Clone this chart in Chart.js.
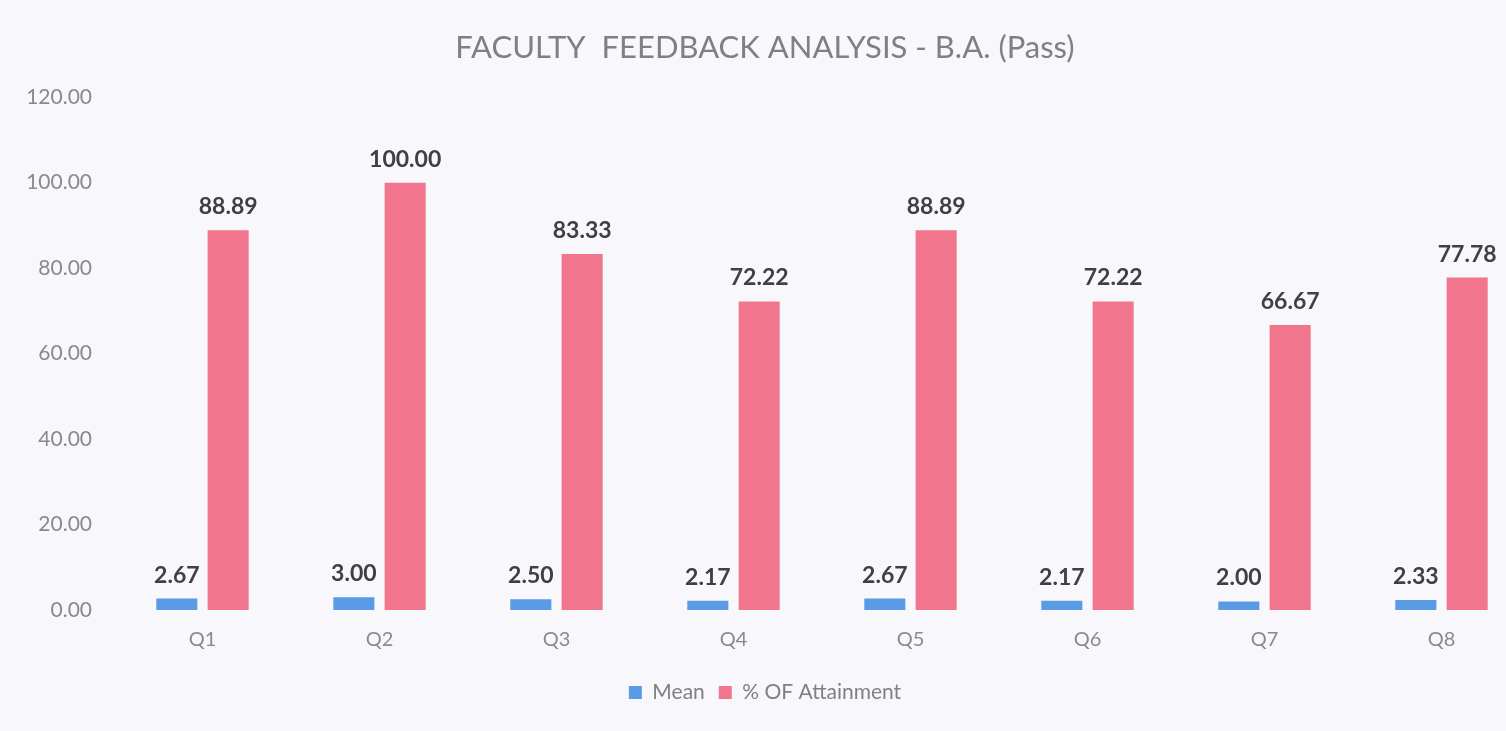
<!DOCTYPE html>
<html>
<head>
<meta charset="utf-8">
<script src="https://cdn.jsdelivr.net/npm/chart.js@4"></script>
<style>
    html, body { margin: 0; padding: 0; background: #f8f7fc; overflow: hidden; }
    #wrap { position: absolute; left: 0; top: 0; width: 1566px; height: 731px; }
</style>
</head>
<body>
<div id="wrap"><canvas id="feedbackChart"></canvas></div>
<script>
// ===============================
// DATA
// ===============================
const questions = ["Q1", "Q2", "Q3", "Q4", "Q5", "Q6", "Q7", "Q8"];
const meanValues = [2.67, 3.00, 2.50, 2.17, 2.67, 2.17, 2.00, 2.33];
const attainmentValues = [88.89, 100.00, 83.33, 72.22, 88.89, 72.22, 66.67, 77.78];

const FONT = "Lato, 'Open Sans', sans-serif";

// ===============================
// VALUE LABELS ABOVE BARS
// ===============================
const barValueLabels = {
    id: "barValueLabels",
    afterDatasetsDraw(chart) {
        const ctx = chart.ctx;
        ctx.save();
        ctx.font = "bold 23px " + FONT;
        ctx.fillStyle = "#404040";
        ctx.textAlign = "center";
        ctx.textBaseline = "bottom";
        chart.data.datasets.forEach((ds, i) => {
            chart.getDatasetMeta(i).data.forEach((bar, j) => {
                ctx.fillText(ds.data[j].toFixed(2), bar.x, bar.y - 12);
            });
        });
        ctx.restore();
    }
};

new Chart(document.getElementById("feedbackChart"), {
    type: "bar",
    data: {
        labels: questions,
        datasets: [
            {
                label: "Mean",
                data: meanValues,
                backgroundColor: "#5a9be6"
            },
            {
                label: "% OF Attainment",
                data: attainmentValues,
                backgroundColor: "#f2758e"
            }
        ]
    },
    options: {
        responsive: true,
        maintainAspectRatio: false,
        animation: false,
        categoryPercentage: 0.58,
        barPercentage: 0.8,
        layout: { padding: { left: 0, right: 36, top: 0, bottom: 18 } },
        plugins: {
            title: {
                display: true,
                text: "FACULTY  FEEDBACK ANALYSIS - B.A. (Pass)",
                color: "#808080",
                font: { family: FONT, size: 31, weight: "normal" },
                padding: { top: 29, bottom: 31 }
            },
            legend: {
                position: "bottom",
                labels: {
                    color: "#808080",
                    font: { family: FONT, size: 21 },
                    boxWidth: 13,
                    boxHeight: 13,
                    padding: 14
                }
            },
            tooltip: { enabled: false }
        },
        scales: {
            x: {
                grid: { display: false },
                border: { display: false },
                afterFit: scale => { scale.height = 58; },
                ticks: { color: "#8a8a8a", font: { family: FONT, size: 20 }, padding: 10 }
            },
            y: {
                min: 0,
                max: 120,
                grid: { display: false },
                border: { display: false },
                afterFit: scale => { scale.width = 114; },
                ticks: {
                    stepSize: 20,
                    color: "#8a8a8a",
                    font: { family: FONT, size: 21 },
                    padding: 14,
                    callback: v => v.toFixed(2)
                }
            }
        }
    },
    plugins: [barValueLabels]
});
</script>
</body>
</html>
